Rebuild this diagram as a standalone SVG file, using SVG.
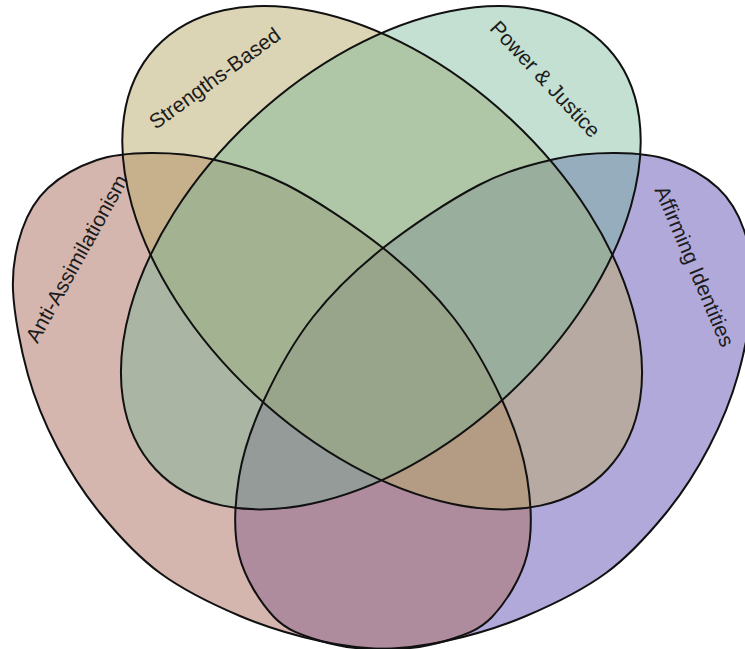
<svg xmlns="http://www.w3.org/2000/svg" width="745" height="649" viewBox="0 0 745 649">
<style>
.lbl{font-family:"Liberation Sans",Arial,Helvetica,sans-serif;font-size:21px;fill:#1c1c1c}
.ol{fill:none;stroke:#111;stroke-width:2}
.f-aff{fill:#6553B7;fill-opacity:.5}
.f-anti{fill:#A96D5F;fill-opacity:.5}
.f-str{fill:#B9AB6B;fill-opacity:.5}
.f-pow{fill:#6FB394;fill-opacity:.41}
</style>
<defs>
<path id="egg" d="M13,290 C12,265.83 16.17,247 22,230 C27.83,213 35.5,199.67 48,188 C60.5,176.33 80,165.83 97,160 C114,154.17 131,153.17 150,153 C169,152.83 188.17,153.67 211,159 C233.83,164.33 258.33,170.17 287,185 C315.67,199.83 355.33,226 383,248 C410.67,270 433.17,291.67 453,317 C472.83,342.33 489.67,373.33 502,400 C514.33,426.67 522.83,451.17 527,477 C531.17,502.83 532.83,531.67 527,555 C521.17,578.33 505.67,602.67 492,617 C478.33,631.33 462,635.67 445,641 C428,646.33 410.83,649 390,649 C369.17,649 345,646.5 320,641 C295,635.5 266.67,627.33 240,616 C213.33,604.67 183.33,590.17 160,573 C136.67,555.83 117.17,534 100,513 C82.83,492 69,470 57,447 C45,424 35.33,401.17 28,375 C20.67,348.83 14,314.17 13,290 Z"/>
<path id="oval" transform="translate(381.5,258.5) rotate(43)" d="M309,0 C309,102.7 170.7,186 0,186 C-170.7,186 -309,102.7 -309,0 C-309,-104.9 -170.7,-190 0,-190 C170.7,-190 309,-104.9 309,0 Z"/>
</defs>
<rect width="745" height="649" fill="#ffffff"/>
<g id="affirming-identities">
<use href="#egg" transform="matrix(-1,0,0,1,766,0)" class="f-aff"/>
<text class="lbl" text-anchor="middle" transform="translate(688,269) rotate(67)">Affirming Identities</text>
</g>
<g id="anti-assimilationism">
<use href="#egg" class="f-anti"/>
<text class="lbl" text-anchor="middle" transform="translate(83,262) rotate(-61)">Anti-Assimilationism</text>
</g>
<g id="strengths-based">
<use href="#oval" class="f-str"/>
<text class="lbl" text-anchor="middle" transform="translate(219,84) rotate(-36)">Strengths-Based</text>
</g>
<g id="power-justice">
<use href="#oval" transform="matrix(-1,0,0,1,763,0)" class="f-pow"/>
<text class="lbl" text-anchor="middle" transform="translate(540,84) rotate(47)">Power &amp; Justice</text>
</g>
<g id="outlines">
<use href="#egg" transform="matrix(-1,0,0,1,766,0)" class="ol"/>
<use href="#egg" class="ol"/>
<use href="#oval" class="ol"/>
<use href="#oval" transform="matrix(-1,0,0,1,763,0)" class="ol"/>
</g>
</svg>
